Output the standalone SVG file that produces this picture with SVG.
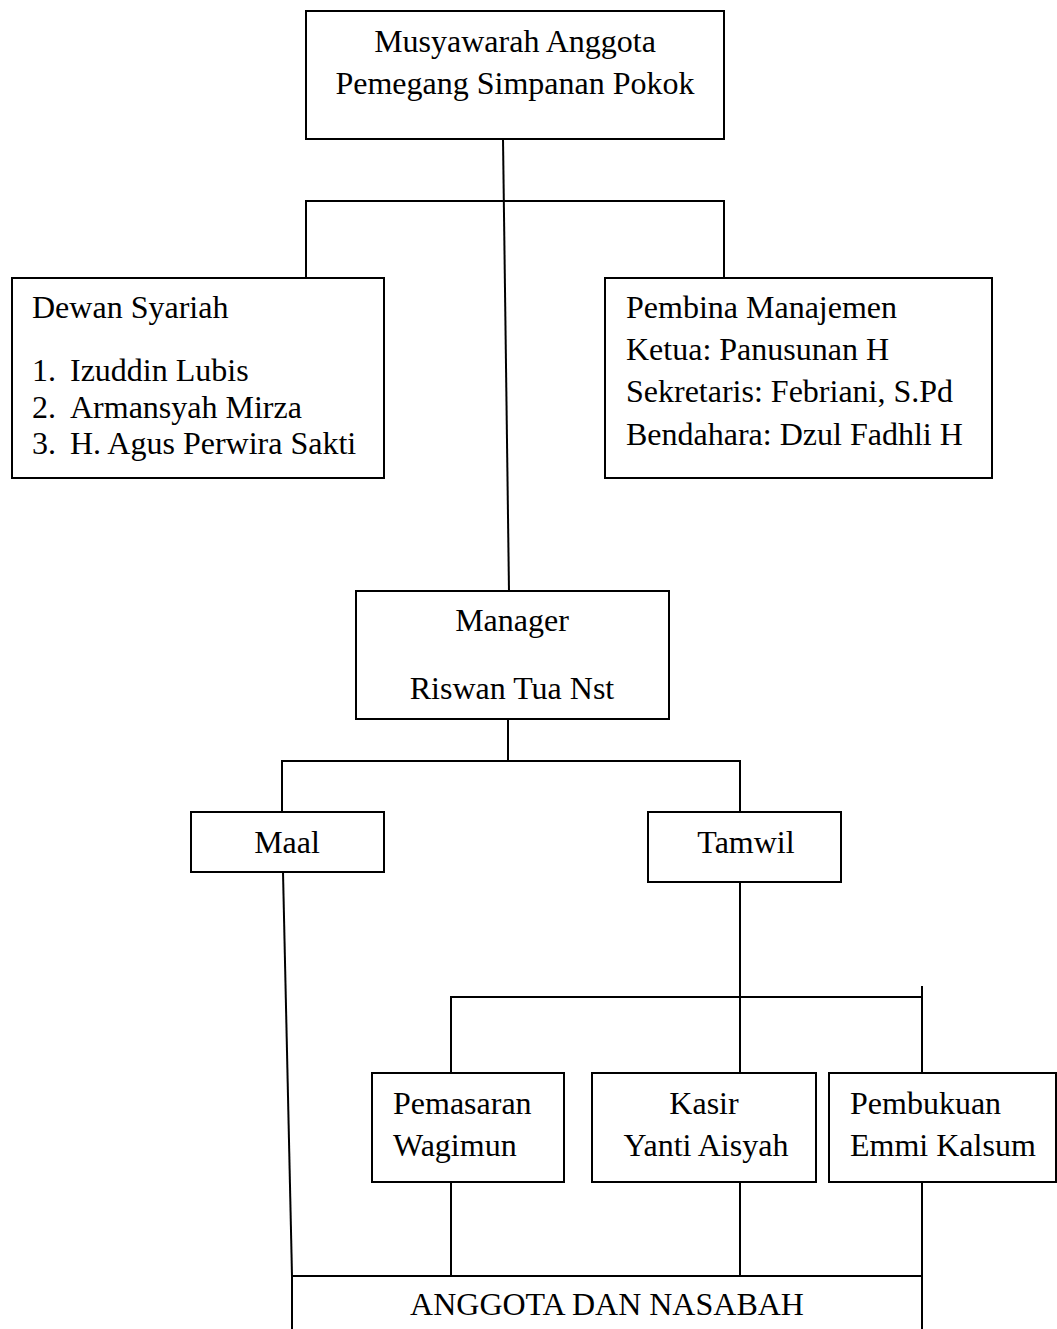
<svg xmlns="http://www.w3.org/2000/svg" width="1057" height="1329" viewBox="0 0 1057 1329">
<style>
rect.box{fill:#fff;stroke:#000;stroke-width:2}
.c line,.c polyline{stroke:#000;stroke-width:2;fill:none}
text{font-family:"Liberation Serif","Times New Roman",serif;font-size:32px;fill:#000}
.m{text-anchor:middle}
</style>
<rect width="1057" height="1329" fill="#fff"/>
<g class="c" id="connectors">
<line x1="503" y1="139" x2="509" y2="592"/>
<polyline points="306,278 306,201 724,201 724,278"/>
<line x1="508" y1="719" x2="508" y2="761"/>
<polyline points="282,812 282,761 740,761 740,812"/>
<line x1="283" y1="872" x2="292" y2="1276"/>
<line x1="740" y1="882" x2="740" y2="1073"/>
<polyline points="451,1073 451,997 922,997"/>
<line x1="922" y1="986" x2="922" y2="1073"/>
<line x1="451" y1="1182" x2="451" y2="1276"/>
<line x1="740" y1="1182" x2="740" y2="1276"/>
<line x1="922" y1="1182" x2="922" y2="1329"/>
<polyline points="292,1329 292,1276 922,1276"/>
</g>
<g id="musyawarah">
<rect class="box" x="306" y="11" width="418" height="128"/>
<text class="m" x="515" y="52">Musyawarah Anggota</text>
<text class="m" x="515" y="94">Pemegang Simpanan Pokok</text>
</g>
<g id="dewan-syariah">
<rect class="box" x="12" y="278" width="372" height="200"/>
<text x="32" y="318">Dewan Syariah</text>
<text x="32" y="381">1.</text><text x="70" y="381">Izuddin Lubis</text>
<text x="32" y="418">2.</text><text x="70" y="418">Armansyah Mirza</text>
<text x="32" y="454">3.</text><text x="70" y="454">H. Agus Perwira Sakti</text>
</g>
<g id="pembina">
<rect class="box" x="605" y="278" width="387" height="200"/>
<text x="626" y="318">Pembina Manajemen</text>
<text x="626" y="360">Ketua: Panusunan H</text>
<text x="626" y="402">Sekretaris: Febriani, S.Pd</text>
<text x="626" y="445">Bendahara: Dzul Fadhli H</text>
</g>
<g id="manager">
<rect class="box" x="356" y="591" width="313" height="128"/>
<text class="m" x="512" y="631">Manager</text>
<text class="m" x="512" y="699">Riswan Tua Nst</text>
</g>
<g id="maal">
<rect class="box" x="191" y="812" width="193" height="60"/>
<text class="m" x="287" y="853">Maal</text>
</g>
<g id="tamwil">
<rect class="box" x="648" y="812" width="193" height="70"/>
<text class="m" x="746" y="853">Tamwil</text>
</g>
<g id="pemasaran">
<rect class="box" x="372" y="1073" width="192" height="109"/>
<text x="393" y="1114">Pemasaran</text>
<text x="393" y="1156">Wagimun</text>
</g>
<g id="kasir">
<rect class="box" x="592" y="1073" width="224" height="109"/>
<text class="m" x="704" y="1114">Kasir</text>
<text class="m" x="706" y="1156">Yanti Aisyah</text>
</g>
<g id="pembukuan">
<rect class="box" x="829" y="1073" width="227" height="109"/>
<text x="850" y="1114">Pembukuan</text>
<text x="850" y="1156">Emmi Kalsum</text>
</g>
<g id="anggota">
<text class="m" x="607" y="1315">ANGGOTA DAN NASABAH</text>
</g>
</svg>
